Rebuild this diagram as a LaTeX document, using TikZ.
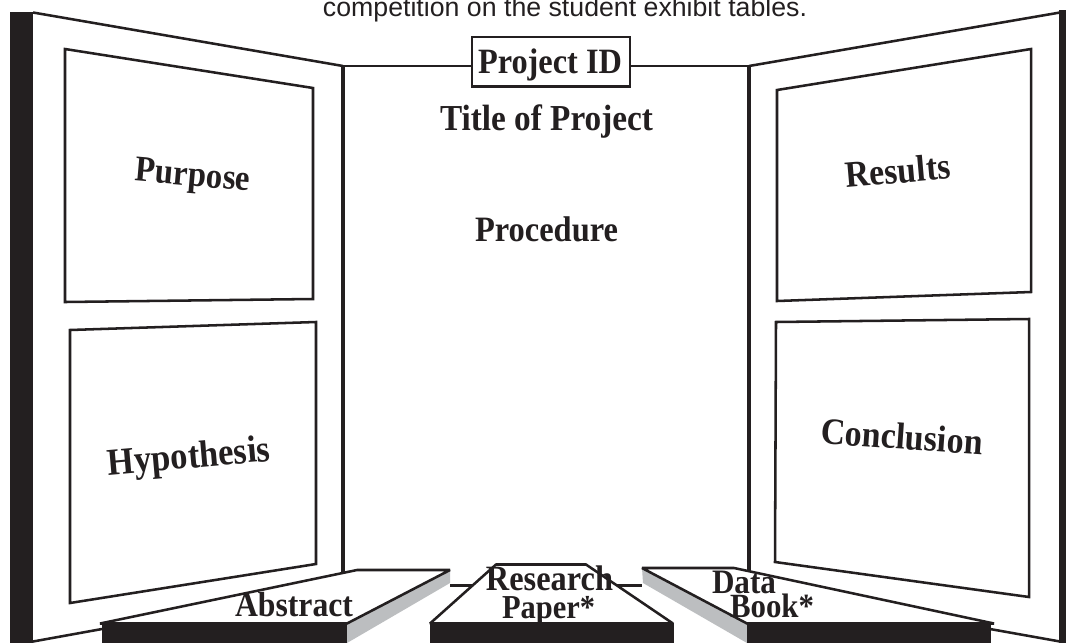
\documentclass[tikz,border=0pt]{standalone}
\usepackage{fontspec}
\usepackage{graphicx}
\setmainfont{Liberation Serif}
\newfontfamily\capfont{Liberation Sans}
\newlength{\pxu}\setlength{\pxu}{0.75pt}
\newcommand{\fitw}[2]{\scalebox{1}[1.1]{\resizebox{#1\pxu}{!}{#2}}}
\newcommand{\fitn}[2]{\resizebox{#1\pxu}{!}{#2}}
\definecolor{ink}{HTML}{231F20}
\definecolor{edge}{HTML}{BCBEC0}
\tikzset{
  panel/.style={draw=ink,line width=1.9pt,line join=miter,fill=white},
  rule/.style={draw=ink,line width=1.9pt},
  post/.style={draw=ink,line width=2.8pt},
  solid ink/.style={fill=ink,draw=none},
  side/.style={fill=edge,draw=none},
  tablet/.style={draw=ink,line width=1.9pt,fill=white,line join=bevel},
  lbl/.style={inner sep=0pt,anchor=base,text=ink,font=\bfseries},
  idbox/.style={draw=ink,line width=2pt,fill=white,minimum width=118.5pt,minimum height=37pt,inner sep=0pt}
}
\begin{document}
\begin{tikzpicture}[x=0.75pt,y=-0.75pt]
\useasboundingbox (0,0) rectangle (1066,643);
\fill[white] (0,0) rectangle (1066,643);
% named corners of the board
\coordinate (tl) at (33,12.5);
\coordinate (bl) at (33,641.5);
\coordinate (tr) at (1060,12.5);
\coordinate (br) at (1060,641.5);
\coordinate (cl) at (343,66);
\coordinate (cr) at (749,66);
\coordinate (cly) at (343,572);
\coordinate (cry) at (749,572);
% wings
\fill[solid ink] (10,12) rectangle (33,643);
\fill[solid ink] (1059,10) rectangle (1066,643);
\draw[rule] (tl) -- (cl);
\draw[rule] (tr) -- (cr);
\draw[rule] (bl) -- (102,629);
\draw[rule] (br) -- (990,629);
\draw[post] (cl) -- (cly);
\draw[post] (cr) -- (cry);
% project id box
\node[idbox] (pid) at (551,61.5) {};
\draw[rule] (cl) -- (pid.west |- cl);
\draw[rule] (pid.east |- cr) -- (cr);
% panels
\draw[panel] (65,49) -- (313,88) -- (313,299) -- (65,302) -- cycle;
\draw[panel] (70,330) -- (316,322) -- (316,564) -- (70,603) -- cycle;
\draw[panel] (777,90) -- (1031,49) -- (1031,292) -- (777,301) -- cycle;
\draw[panel] (776,322) -- (1029,319) -- (1029,597) -- (775,562) -- cycle;
% rule behind tablets
\coordinate (ml) at (450,585.5);
\coordinate (mr) at (642,585.5);
\draw[rule] (ml) -- (mr);
% abstract tablet
\fill[side] (347,623) -- (450,570) -- (450,583) -- (347,643) -- cycle;
\draw[tablet] (100,623.5) -- (357,570) -- (450,570) -- (347,623.5) -- cycle;
\fill[solid ink] (102,623) rectangle (347,643);
% research tablet
\draw[tablet] (430,623.5) -- (496,564.5) -- (586,564.5) -- (673,623.5) -- cycle;
\fill[solid ink] (430,623) rectangle (674,643);
% data tablet
\fill[side] (642,568) -- (747,623) -- (747,643) -- (643,583) -- cycle;
\draw[tablet] (642,568) -- (734,568) -- (994,623.5) -- (747,623.5) -- cycle;
\fill[solid ink] (747,623) rectangle (991,643);
% texts
\node[inner sep=0pt,anchor=base,text=ink] (note) at (565,16.5) {\fitn{484}{\capfont\fontsize{16}{18}\selectfont competition on the student exhibit tables.}};
\node[lbl] (idt) at (550,73) {\fitw{144}{Project ID}};
\node[lbl] (title) at (546.5,130) {\fitw{213}{Title of Project}};
\node[lbl] (proc) at (546.5,241) {\fitw{143}{Procedure}};
\node[lbl,rotate=-5] (purp) at (192,186) {\fitw{115}{Purpose}};
\node[lbl,rotate=5] (res) at (899,183) {\fitw{105}{Results}};
\node[lbl,rotate=5] (hyp) at (190,468) {\fitw{163}{Hypothesis}};
\node[lbl,rotate=-4] (conc) at (901,449) {\fitw{162}{Conclusion}};
\node[lbl] (abs) at (294,616) {\fitw{118}{Abstract}};
\node[lbl] (rs) at (549.5,590) {\fitw{127}{Research}};
\node[lbl] (pp) at (548.5,618) {\fitw{93}{Paper*}};
\node[lbl] (da) at (744,593) {\fitw{64}{Data}};
\node[lbl] (bk) at (772,617) {\fitw{84}{Book*}};
\end{tikzpicture}
\end{document}
